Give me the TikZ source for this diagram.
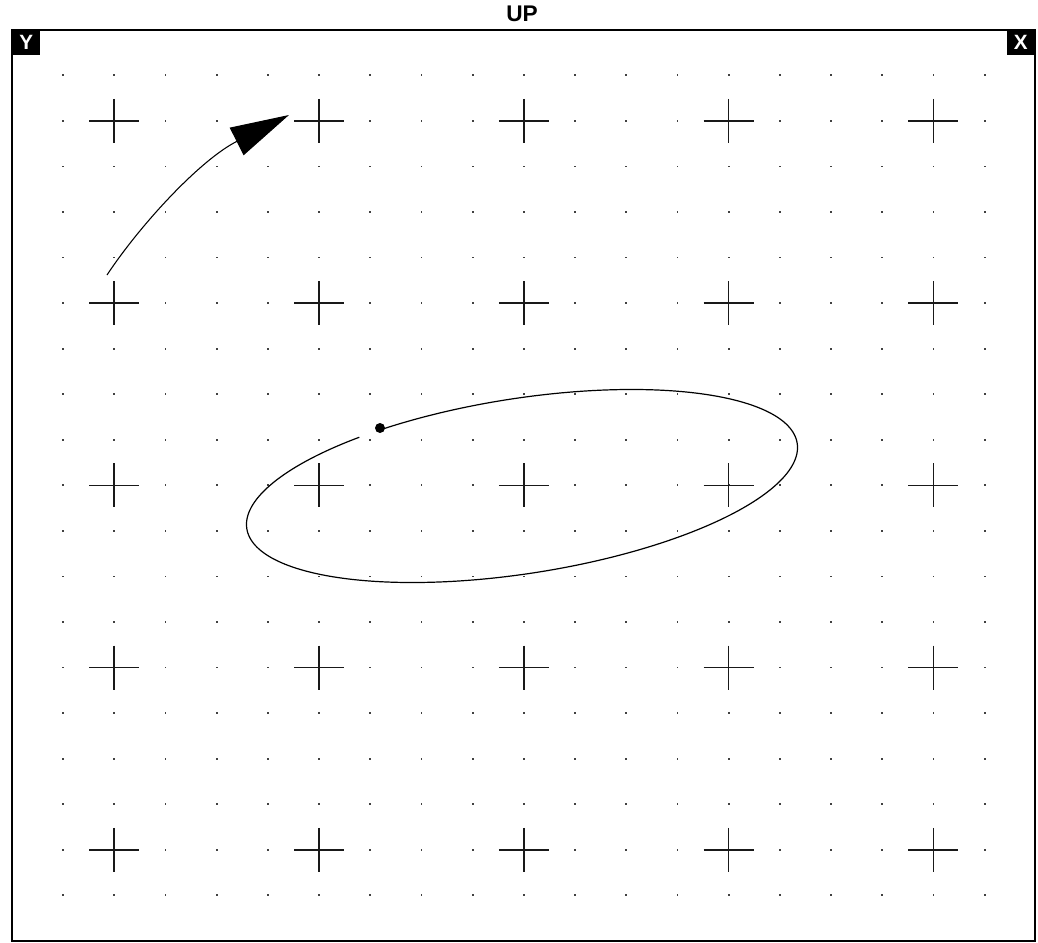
\documentclass[tikz,border=0pt]{standalone}
\usepackage{fontspec}
\setmainfont{Liberation Sans}
\usetikzlibrary{arrows.meta}
\begin{document}
\begin{tikzpicture}[x=0.75pt,y=-0.75pt,
  frame/.style={draw=black,line width=1.5pt},
  crossline/.style={draw=black!90,line width=1.2pt},
  griddot/.style={fill=black!75},
  axislabel/.style={fill=black,text=white,font=\bfseries\fontsize{15.5}{15.5}\selectfont,inner sep=0pt,minimum width=21pt,minimum height=18.75pt},
  titletext/.style={font=\bfseries\fontsize{17}{17}\selectfont,inner sep=0pt},
  orbit/.style={draw=black,line width=0.9pt},
  curvearrow/.style={draw=black,line width=0.8pt,-{Triangle[length=44pt,width=23pt]}}]
\useasboundingbox (0,0) rectangle (1038,942);
% frame
\draw[frame] (12,30.5) rectangle (1035,940.5);
% title and axis labels
\node[titletext] (title) at (522,14) {UP};
\node[axislabel,anchor=north west] (ylab) at (12,30) {Y};
\node[axislabel,anchor=north east] (xlab) at (1035,30) {X};
% dot grid
\foreach \i in {0,...,18}{
  \foreach \j in {0,...,18}{
    \fill[griddot] (63+51.2*\i-0.9,75.3+45.56*\j-0.9) rectangle +(1.8,1.8);
  }
}
% crosses
\foreach \i in {1,5,9,13,17}{
  \foreach \j in {1,5,9,13,17}{
    \draw[crossline] (63+51.2*\i-25,75.3+45.56*\j) -- +(50,0);
    \draw[crossline] (63+51.2*\i,75.3+45.56*\j-22) -- +(0,44);
  }
}
% orbit
\draw[orbit] plot[domain=117.6:-236.6,samples=240,smooth,variable=\t]
  ({522+278.5*cos(\t)*cos(8.82)-87.6*sin(\t)*sin(8.82)},
   {486-(278.5*cos(\t)*sin(8.82)+87.6*sin(\t)*cos(8.82))});
\node[circle,fill=black,inner sep=0pt,minimum size=7.5pt] (start) at (380,428) {};
% rotation arrow
\coordinate (a0) at (107,275);
\coordinate (a1) at (289,115);
\draw[curvearrow] (a0) .. controls (140,225) and (200,160) .. (a1);
\end{tikzpicture}
\end{document}
